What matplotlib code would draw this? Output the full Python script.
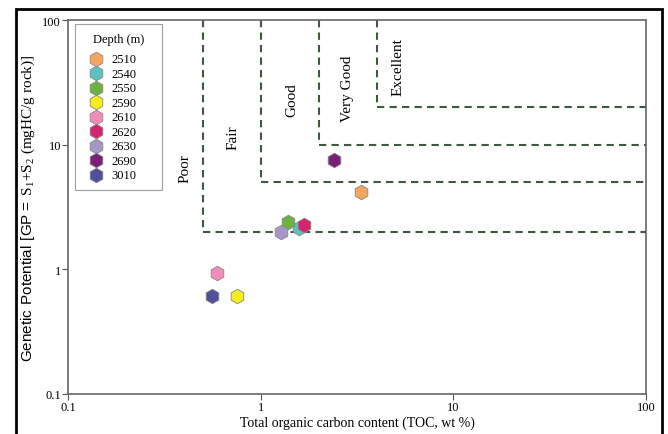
import matplotlib
matplotlib.use('Agg')
import matplotlib.pyplot as plt
from matplotlib.patches import Rectangle

plt.rcParams['font.family'] = ['Liberation Serif', 'DejaVu Serif']
plt.rcParams['mathtext.fontset'] = 'custom'
plt.rcParams['mathtext.rm'] = 'Liberation Serif'
plt.rcParams['mathtext.sf'] = 'Liberation Sans'

# Sample data
depths = ['2510', '2540', '2550', '2590', '2610', '2620', '2630', '2690', '3010']
toc = [3.31, 1.59, 1.38, 0.75, 0.59, 1.68, 1.28, 2.40, 0.56]
gp = [4.14, 2.13, 2.38, 0.61, 0.93, 2.27, 1.98, 7.57, 0.61]
colors = ['#F7A45E', '#5CC2BF', '#6BB33E', '#F4EC1C', '#F28DBB',
          '#D3246F', '#A895C8', '#7A1E78', '#4F4F9C']

# Source rock quality limits (TOC, GP) and labels
toc_limits = [0.5, 1, 2, 4]
gp_limits = [2, 5, 10, 20]
classes = ['Poor', 'Fair', 'Good', 'Very Good', 'Excellent']
class_x = [0.405, 0.716, 1.45, 2.84, 5.16]
class_y = [6.6, 11.6, 23.0, 28.5, 42.7]

fig = plt.figure(figsize=(6.68, 4.35), dpi=100)
ax = fig.add_axes([0.1018, 0.092, 0.8652, 0.8597])

dash_color = '#3E5A3E'
dash = (0, (3.5, 2.5))
for xl, yl in zip(toc_limits, gp_limits):
    ax.plot([xl, xl], [100, yl], color=dash_color, lw=1.5, ls=dash, zorder=1)
    ax.plot([xl, 100], [yl, yl], color=dash_color, lw=1.5, ls=dash, zorder=1)

for c, x, y in zip(classes, class_x, class_y):
    ax.text(x, y, c, rotation=90, ha='center', va='center', fontsize=11)

for d, x, y, c in zip(depths, toc, gp, colors):
    ax.scatter(x, y, marker='h', s=110, color=c, edgecolor='#888888',
               linewidth=0.6, label=d, zorder=3)

ax.set_xscale('log')
ax.set_yscale('log')
ax.set_xlim(0.1, 100)
ax.set_ylim(0.1, 100)
ax.set_xticks([0.1, 1, 10, 100])
ax.set_xticklabels(['0.1', '1', '10', '100'])
ax.set_yticks([0.1, 1, 10, 100])
ax.set_yticklabels(['0.1', '1', '10', '100'])
ax.minorticks_off()
ax.tick_params(labelsize=9, length=4, color='#555555', pad=1)
for s in ax.spines.values():
    s.set_color('#666666')
    s.set_linewidth(1.2)

ax.set_xlabel('Total organic carbon content (TOC, wt %)', fontsize=10, labelpad=2)
ax.set_ylabel(r'$\mathsf{Genetic\ Potential\ [GP{=}}$ S$_1$+S$_2$ (mgHC/g rock)]',
              fontsize=11, labelpad=4)

leg = ax.legend(title='Depth (m)', loc='upper left',
                bbox_to_anchor=(0.0121, 0.0, 0.1505, 0.989), mode='expand',
                borderaxespad=0, fontsize=9, title_fontsize=9, fancybox=False,
                edgecolor='#888888', labelspacing=0.2, handletextpad=0.25,
                borderpad=0.7, handlelength=2.0)
leg.get_frame().set_linewidth(0.8)
leg._legend_box.sep = 6

# Outer frame around the figure
fig.patches.append(Rectangle((16 / 668, -0.05), (662 - 16) / 668, 1.05 - 10 / 435,
                             transform=fig.transFigure, fill=False,
                             edgecolor='black', linewidth=2))

fig.savefig('out.png', dpi=100)
